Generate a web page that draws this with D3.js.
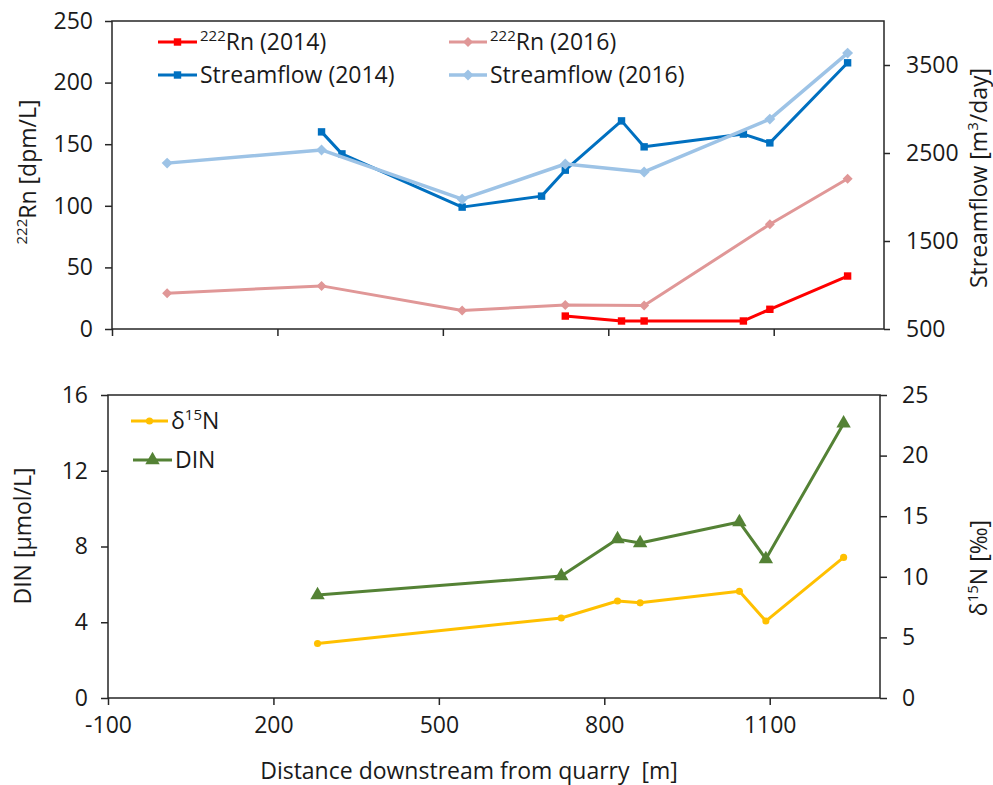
<!DOCTYPE html>
<html>
<head>
<meta charset="utf-8">
<script src="https://cdn.jsdelivr.net/npm/d3@7"></script>
<style>
body { margin: 0; background: #fff; }
text { font-family: "Open Sans", "Noto Sans", sans-serif; fill: #1a1a1a; }
</style>
</head>
<body>
<div id="chart"></div>
<script>
// distances downstream [m]
var rnX2014 = [722, 824, 865, 1045, 1093, 1234];
var rn2014 = [10.5, 6.5, 6.5, 6.5, 16, 43];
var rnX2016 = [0, 280, 535, 722, 865, 1093, 1234];
var rn2016 = [29, 35, 15, 19.5, 19, 85, 122];
var flowX2014 = [280, 317, 535, 679, 722, 824, 865, 1045, 1093, 1234];
var flow2014 = [2740, 2490, 1885, 2010, 2305, 2865, 2570, 2715, 2615, 3525];
var flowX2016 = [0, 280, 535, 722, 865, 1093, 1234];
var flow2016 = [2385, 2535, 1975, 2375, 2285, 2885, 3635];
var nX = [280, 722, 824, 865, 1045, 1093, 1234];
var din = [5.44, 6.44, 8.39, 8.18, 9.29, 7.34, 14.5];
var d15n = [4.5, 6.6, 8.0, 7.85, 8.8, 6.35, 11.6];

var xTicks = [-100, 200, 500, 800, 1100];
var rnTicks = [0, 50, 100, 150, 200, 250];
var flowTicks = [500, 1500, 2500, 3500];
var dinTicks = [0, 4, 8, 12, 16];
var d15Ticks = [0, 5, 10, 15, 20, 25];

var svg = d3.select("#chart").append("svg")
	.attr("width", 993)
	.attr("height", 785);

var axisColor = "#262626";
var fs = 23;
var plain = function(d) { return String(d); };

function zip(xs, ys) {
	return xs.map(function(x, i) { return [x, ys[i]]; });
}

function styleAxis(g) {
	g.select(".domain").remove();
	g.selectAll("line").attr("stroke", axisColor).attr("stroke-width", 1.5);
	g.selectAll("text").style("font-size", fs + "px").attr("fill", "#1a1a1a");
}

function drawSeries(g, x, y, pts, color, width, symbol, size, angle) {
	g.append("path")
		.datum(pts)
		.attr("fill", "none")
		.attr("stroke", color)
		.attr("stroke-width", width)
		.attr("stroke-linejoin", "round")
		.attr("d", d3.line().x(function(d) { return x(d[0]); }).y(function(d) { return y(d[1]); }));
	g.selectAll(null)
		.data(pts)
		.enter().append("path")
		.attr("d", d3.symbol().type(symbol).size(size))
		.attr("fill", color)
		.attr("transform", function(d) {
			return "translate(" + x(d[0]) + "," + y(d[1]) + ") rotate(" + (angle || 0) + ")";
		});
}

function legendItem(g, xa, xb, y, color, width, symbol, size, angle, label) {
	g.append("line")
		.attr("x1", xa).attr("x2", xb).attr("y1", y).attr("y2", y)
		.attr("stroke", color).attr("stroke-width", width);
	g.append("path")
		.attr("d", d3.symbol().type(symbol).size(size))
		.attr("fill", color)
		.attr("transform", "translate(" + ((xa + xb) / 2) + "," + y + ") rotate(" + (angle || 0) + ")");
	var t = g.append("text")
		.attr("x", xb + 3)
		.attr("y", y + 8)
		.style("font-size", fs + "px");
	label(t);
}

function supText(t, pre, sup, post) {
	if (pre) t.append("tspan").text(pre);
	t.append("tspan").attr("dy", -9).style("font-size", "15px").text(sup);
	t.append("tspan").attr("dy", 9).text(post);
}

// ---------------- top panel ----------------
var tp = { l: 112, r: 884, t: 21, b: 329 };
var x1 = d3.scaleLinear().domain([-100, 1300]).range([tp.l, tp.r]);
var yRn = d3.scaleLinear().domain([0, 250]).range([tp.b, tp.t]);
var yFlow = d3.scaleLinear().domain([500, 4000]).range([tp.b, tp.t]);

var g1 = svg.append("g");
g1.append("rect")
	.attr("x", tp.l).attr("y", tp.t)
	.attr("width", tp.r - tp.l).attr("height", tp.b - tp.t)
	.attr("fill", "none").attr("stroke", axisColor).attr("stroke-width", 1.5);

g1.append("g")
	.attr("transform", "translate(0," + tp.b + ")")
	.call(d3.axisBottom(x1).tickValues(xTicks).tickSize(7).tickSizeOuter(0).tickFormat(""))
	.call(styleAxis);
g1.append("g")
	.attr("transform", "translate(" + tp.l + ",0)")
	.call(d3.axisLeft(yRn).tickValues(rnTicks).tickSize(7).tickPadding(12).tickSizeOuter(0).tickFormat(plain))
	.call(styleAxis);
g1.append("g")
	.attr("transform", "translate(" + tp.r + ",0)")
	.call(d3.axisRight(yFlow).tickValues(flowTicks).tickSize(6).tickPadding(16).tickSizeOuter(0).tickFormat(plain))
	.call(styleAxis);

var cRed = "#ff0000", cPink = "#e09797", cBlue = "#0070c0", cLight = "#9dc3e6";

drawSeries(g1, x1, yRn, zip(rnX2016, rn2016), cPink, 3, d3.symbolSquare, 50, 45);
drawSeries(g1, x1, yRn, zip(rnX2014, rn2014), cRed, 3, d3.symbolSquare, 55, 0);
drawSeries(g1, x1, yFlow, zip(flowX2014, flow2014), cBlue, 3, d3.symbolSquare, 55, 0);
drawSeries(g1, x1, yFlow, zip(flowX2016, flow2016), cLight, 3.5, d3.symbolSquare, 60, 45);

legendItem(g1, 158, 197, 42, cRed, 3, d3.symbolSquare, 55, 0, function(t) { supText(t, "", "222", "Rn (2014)"); });
legendItem(g1, 158, 197, 75, cBlue, 3, d3.symbolSquare, 55, 0, function(t) { t.text("Streamflow (2014)"); });
legendItem(g1, 449, 487, 42, cPink, 3, d3.symbolSquare, 50, 45, function(t) { supText(t, "", "222", "Rn (2016)"); });
legendItem(g1, 449, 487, 75, cLight, 3.5, d3.symbolSquare, 60, 45, function(t) { t.text("Streamflow (2016)"); });

var tl = svg.append("text")
	.attr("transform", "translate(36,172) rotate(-90)")
	.attr("text-anchor", "middle")
	.style("font-size", fs + "px");
supText(tl, "", "222", "Rn [dpm/L]");

var tr = svg.append("text")
	.attr("transform", "translate(987,178) rotate(-90)")
	.attr("text-anchor", "middle")
	.style("font-size", fs + "px");
supText(tr, "Streamflow [m", "3", "/day]");

// ---------------- bottom panel ----------------
var bt = { l: 108, r: 880, t: 395, b: 698 };
var x2 = d3.scaleLinear().domain([-100, 1300]).range([bt.l, bt.r]);
var yDin = d3.scaleLinear().domain([0, 16]).range([bt.b, bt.t]);
var yD15 = d3.scaleLinear().domain([0, 25]).range([bt.b, bt.t]);

var g2 = svg.append("g");
g2.append("rect")
	.attr("x", bt.l).attr("y", bt.t)
	.attr("width", bt.r - bt.l).attr("height", bt.b - bt.t)
	.attr("fill", "none").attr("stroke", axisColor).attr("stroke-width", 1.5);

g2.append("g")
	.attr("transform", "translate(0," + bt.b + ")")
	.call(d3.axisBottom(x2).tickValues(xTicks).tickSize(7).tickPadding(12).tickSizeOuter(0).tickFormat(plain))
	.call(styleAxis);
g2.append("g")
	.attr("transform", "translate(" + bt.l + ",0)")
	.call(d3.axisLeft(yDin).tickValues(dinTicks).tickSize(7).tickPadding(13).tickSizeOuter(0).tickFormat(plain))
	.call(styleAxis);
g2.append("g")
	.attr("transform", "translate(" + bt.r + ",0)")
	.call(d3.axisRight(yD15).tickValues(d15Ticks).tickSize(7).tickPadding(15).tickSizeOuter(0).tickFormat(plain))
	.call(styleAxis);

var cYel = "#ffc000", cGreen = "#548235";

drawSeries(g2, x2, yD15, zip(nX, d15n), cYel, 3, d3.symbolCircle, 40, 0);
drawSeries(g2, x2, yDin, zip(nX, din), cGreen, 3, d3.symbolTriangle, 90, 0);

legendItem(g2, 131, 168, 421, cYel, 3, d3.symbolCircle, 40, 0, function(t) { supText(t, "δ", "15", "N"); });
legendItem(g2, 133, 172, 460, cGreen, 3, d3.symbolTriangle, 90, 0, function(t) { t.text("DIN"); });

svg.append("text")
	.attr("transform", "translate(31,536) rotate(-90)")
	.attr("text-anchor", "middle")
	.style("font-size", fs + "px")
	.text("DIN [µmol/L]");

var tr2 = svg.append("text")
	.attr("transform", "translate(987,568) rotate(-90)")
	.attr("text-anchor", "middle")
	.style("font-size", fs + "px");
supText(tr2, "δ", "15", "N [‰]");

svg.append("text")
	.attr("x", 469)
	.attr("y", 779)
	.attr("text-anchor", "middle")
	.attr("xml:space", "preserve")
	.style("font-size", fs + "px")
	.text("Distance downstream from quarry  [m]");
</script>
</body>
</html>
